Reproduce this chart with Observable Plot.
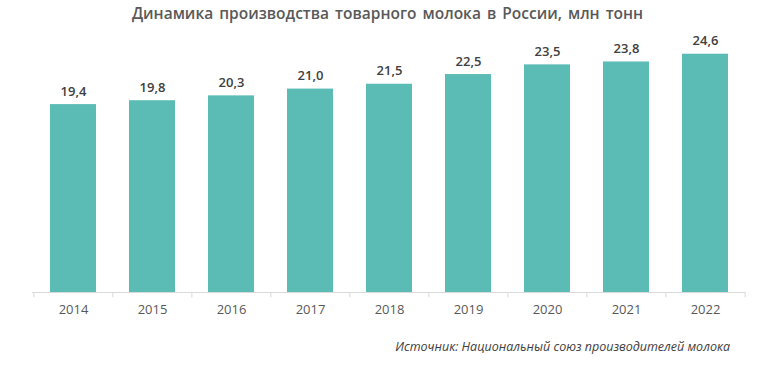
<!DOCTYPE html>
<html><head><meta charset="utf-8">
<script src="https://cdn.jsdelivr.net/npm/d3@7"></script>
<script src="https://cdn.jsdelivr.net/npm/@observablehq/plot@0.6"></script>
<style>
body{margin:0;background:#fff;font-family:"Open Sans",sans-serif;width:761px;height:376px;overflow:hidden}
#title{height:25px;line-height:26px;text-align:center;font-weight:600;font-size:15.5px;color:#595959;padding-left:14px;word-spacing:2px}
#cap{position:absolute;top:338px;right:31px;font-style:italic;font-size:12.5px;color:#404040}
</style></head><body>
<div id="title">Динамика производства товарного молока в России, млн тонн</div>
<div id="chart"></div>
<div id="cap">Источник: Национальный союз производителей молока</div>
<script>
const years = ["2014","2015","2016","2017","2018","2019","2020","2021","2022"];
const values = [19.4, 19.8, 20.3, 21.0, 21.5, 22.5, 23.5, 23.8, 24.6];
const data = years.map((y,i)=>({year:y, value:values[i]}));
const W=761, ML=32, MR=16;
const step=(W-ML-MR)/years.length;
const fmt=v=>d3.format(".1f")(v).replace(".",",");
const chart=Plot.plot({
  width:W, height:300, marginLeft:ML, marginRight:MR, marginTop:20, marginBottom:33,
  style:{fontFamily:"Open Sans, sans-serif", background:"#fff", overflow:"visible"},
  x:{domain:years, paddingInner:0.42, paddingOuter:0.21, label:null},
  y:{domain:[0,25.5], axis:null},
  marks:[
    Plot.barY(data,{x:"year", y:"value", fill:"#5bbcb6"}),
    Plot.ruleY([0],{stroke:"#d9d9d9", strokeWidth:1.2, strokeOpacity:1}),
    Plot.ruleX(data,{x:"year", dx:-step/2, y1:0, y2:-0.55, stroke:"#d9d9d9", strokeOpacity:1}),
    Plot.ruleX(data.slice(-1),{x:"year", dx:step/2, y1:0, y2:-0.55, stroke:"#d9d9d9", strokeOpacity:1}),
    Plot.axisX({tickSize:0, tickPadding:12, fontSize:13, fill:"#595959", label:null}),
    Plot.text(data,{x:"year", y:"value", text:d=>fmt(d.value), dy:-13, fontSize:13, fontWeight:600, fill:"#404040"})
  ]
});
document.getElementById("chart").appendChild(chart);
</script></body></html>
